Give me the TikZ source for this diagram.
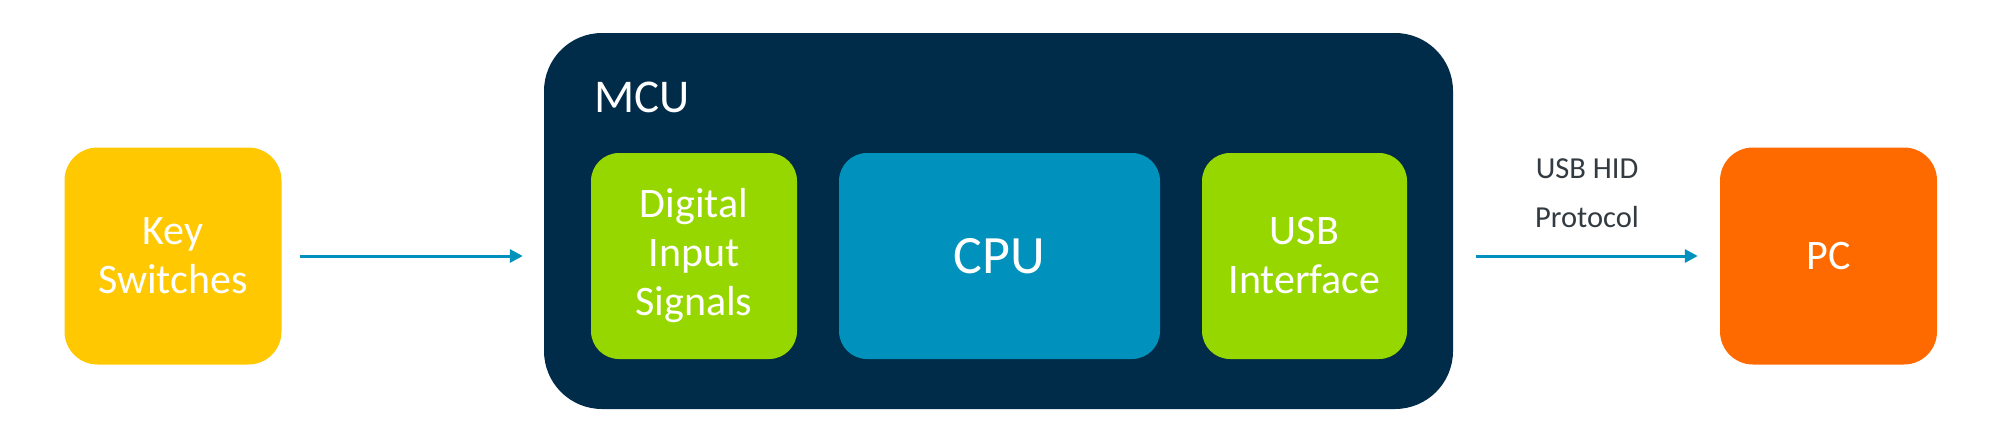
\documentclass[tikz,border=0pt]{standalone}
\usepackage{fontspec}
\setmainfont{Carlito}
\usetikzlibrary{arrows.meta,calc}
\definecolor{keyyellow}{RGB}{255,200,0}
\definecolor{mcunavy}{RGB}{0,43,73}
\definecolor{sgreen}{RGB}{151,215,0}
\definecolor{cpublue}{RGB}{0,146,188}
\definecolor{pcorange}{RGB}{255,106,0}
\definecolor{txtgray}{RGB}{50,58,66}
\tikzset{
  blk/.style={rectangle, inner sep=0pt, align=center, text=white},
  outerbox/.style={blk, minimum width=217pt, minimum height=217pt, rounded corners=33pt,
     font=\fontsize{42}{49}\selectfont},
  innerbox/.style={blk, minimum height=206pt, rounded corners=28pt,
     font=\fontsize{42}{49}\selectfont},
  arr/.style={draw=cpublue, line width=3pt, -{Triangle[length=13pt,width=13pt]}}
}
\begin{document}
\begin{tikzpicture}[x=1pt,y=-1pt]
\useasboundingbox[fill=white] (0,0) rectangle (1999,445);
\node[outerbox, fill=keyyellow] (key) at (173,256) {Key\\Switches};
\node[blk, fill=mcunavy, minimum width=909pt, minimum height=376pt, rounded corners=58pt] (mcu) at (998.5,221) {};
\node[anchor=base west, text=white, font=\fontsize{47}{50}\selectfont, inner sep=0pt] (mculbl) at (594,112) {MCU};
\node[innerbox, fill=sgreen, minimum width=206pt] (dig) at (694,256) {Digital\\Input\\Signals};
\node[innerbox, fill=cpublue, minimum width=321pt, font=\fontsize{54}{58}\selectfont] (cpu) at (999.5,256) {CPU};
\node[innerbox, fill=sgreen, minimum width=205pt] (usb) at (1304.5,256) {USB\\Interface};
\node[outerbox, fill=pcorange] (pc) at (1828.5,256) {PC};
\draw[arr, shorten <=18pt, shorten >=21pt] (key.east) -- (key.east -| mcu.west);
\draw[arr, shorten <=23pt, shorten >=22pt] (pc.west -| mcu.east) -- (pc.west);
\node[anchor=base, text=txtgray, font=\fontsize{30.5}{32}\selectfont, inner sep=0pt] (hid) at (1587,178) {USB HID};
\node[anchor=base, text=txtgray, font=\fontsize{30.5}{32}\selectfont, inner sep=0pt] (proto) at (1587,227) {Protocol};
\end{tikzpicture}
\end{document}
